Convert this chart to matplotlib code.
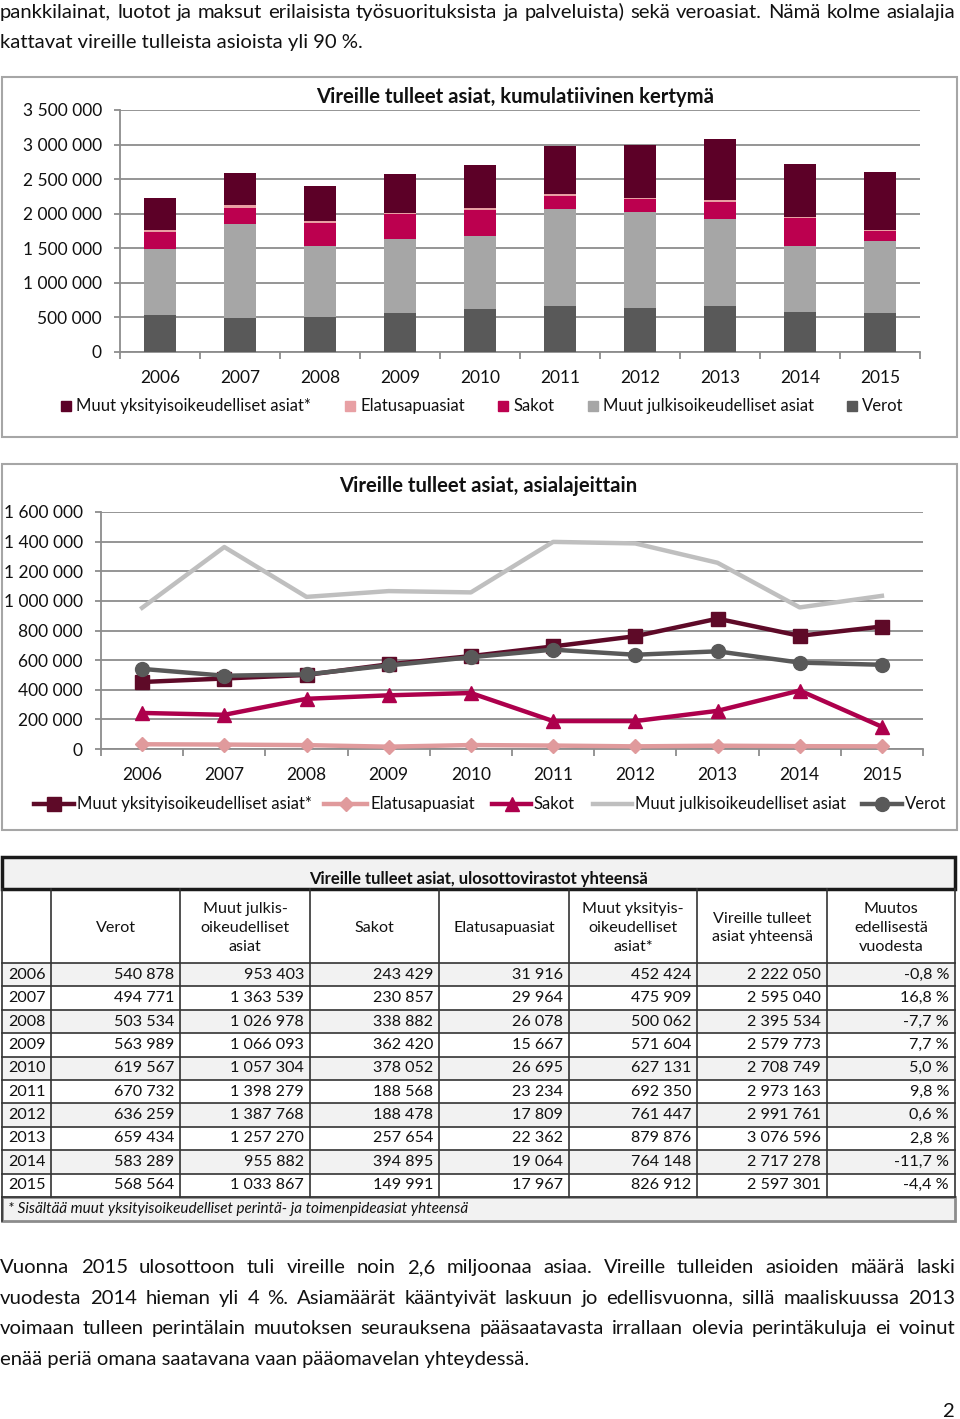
import matplotlib
matplotlib.use("Agg")
import numpy as np
import matplotlib.pyplot as plt
from matplotlib.patches import Rectangle
from matplotlib.lines import Line2D
from matplotlib.ticker import FuncFormatter, MultipleLocator

plt.rcParams['font.family'] = ['Lato', 'DejaVu Sans']

W, H = 960, 1419

years = [2006, 2007, 2008, 2009, 2010, 2011, 2012, 2013, 2014, 2015]
verot = [540878, 494771, 503534, 563989, 619567, 670732, 636259, 659434, 583289, 568564]
julkis = [953403, 1363539, 1026978, 1066093, 1057304, 1398279, 1387768, 1257270, 955882, 1033867]
sakot = [243429, 230857, 338882, 362420, 378052, 188568, 188478, 257654, 394895, 149991]
elatus = [31916, 29964, 26078, 15667, 26695, 23234, 17809, 22362, 19064, 17967]
yksityis = [452424, 475909, 500062, 571604, 627131, 692350, 761447, 879876, 764148, 826912]
yhteensa = [2222050, 2595040, 2395534, 2579773, 2708749, 2973163, 2991761, 3076596, 2717278, 2597301]
muutos = ['-0,8 %', '16,8 %', '-7,7 %', '7,7 %', '5,0 %', '9,8 %', '0,6 %', '2,8 %', '-11,7 %', '-4,4 %']

names = ['Muut yksityisoikeudelliset asiat*', 'Elatusapuasiat', 'Sakot',
         'Muut julkisoikeudelliset asiat', 'Verot']
col_headers = ['', 'Verot', 'Muut julkis-\noikeudelliset\nasiat', 'Sakot', 'Elatusapuasiat',
               'Muut yksityis-\noikeudelliset\nasiat*', 'Vireille tulleet\nasiat yhteensä',
               'Muutos\nedellisestä\nvuodesta']

top_lines = ['pankkilainat, luotot ja maksut erilaisista työsuorituksista ja palveluista) sekä veroasiat. Nämä kolme asialajia',
             'kattavat vireille tulleista asioista yli 90 %.']
bottom_lines = ['Vuonna 2015 ulosottoon tuli vireille noin 2,6 miljoonaa asiaa. Vireille tulleiden asioiden määrä laski',
                'vuodesta 2014 hieman yli 4 %. Asiamäärät kääntyivät laskuun jo edellisvuonna, sillä maaliskuussa 2013',
                'voimaan tulleen perintälain muutoksen seurauksena pääsaatavasta irrallaan olevia perintäkuluja ei voinut',
                'enää periä omana saatavana vaan pääomavelan yhteydessä.']

# bar colours / line colours
bar_col = {'yks': '#5c0027', 'ela': '#e8a0a4', 'sak': '#bc004f', 'jul': '#a6a6a6', 'ver': '#595959'}
line_col = {'yks': '#5e0a28', 'ela': '#e09a9c', 'sak': '#ad004c', 'jul': '#bfbfbf', 'ver': '#595959'}
GRID = '#8c8c8c'

fig = plt.figure(figsize=(9.6, 14.19), dpi=100)
page = fig.add_axes([0, 0, 1, 1])
page.set_xlim(0, W)
page.set_ylim(H, 0)
page.axis('off')
renderer = fig.canvas.get_renderer()


def rect(x0, y0, x1, y1):
    return [x0 / W, 1 - y1 / H, (x1 - x0) / W, (y1 - y0) / H]


def fmt(v, pos=None):
    return f'{int(round(v)):,}'.replace(',', ' ')


def text_line(s, y, size, justify):
    # y is the baseline
    if not justify:
        page.text(0, y, s, fontsize=size, va='baseline', ha='left', color='#111111')
        return
    words = s.split()
    ts = [page.text(0, y, w, fontsize=size, va='baseline', ha='left', color='#111111') for w in words]
    ws = [t.get_window_extent(renderer).width for t in ts]
    gap = (955 - sum(ws)) / (len(words) - 1)
    x = 0
    for t, w in zip(ts, ws):
        t.set_x(x)
        x += w + gap


BODY = 14.6
text_line(top_lines[0], 18, BODY, True)
text_line(top_lines[1], 48, BODY, False)
for i, s in enumerate(bottom_lines):
    text_line(s, 1273 + 30.7 * i, BODY, i < 3)
page.text(954, 1417, '2', fontsize=BODY, ha='right', va='baseline', color='#111111')

# chart frames
page.add_patch(Rectangle((2, 77), 955, 360, fill=False, ec='#a6a6a6', lw=1.5))
page.add_patch(Rectangle((2, 464), 955, 366, fill=False, ec='#a6a6a6', lw=1.5))


def style_axis(ax, ymax, step):
    ax.set_xlim(-0.5, len(years) - 0.5)
    ax.set_ylim(0, ymax)
    ax.yaxis.set_major_locator(MultipleLocator(step))
    ax.yaxis.set_major_formatter(FuncFormatter(fmt))
    ax.yaxis.grid(True, color=GRID, lw=1.3)
    ax.set_axisbelow(True)
    for s in ['top', 'right']:
        ax.spines[s].set_visible(False)
    for s in ['left', 'bottom']:
        ax.spines[s].set_color(GRID)
        ax.spines[s].set_linewidth(1.3)
    ax.set_xticks(range(len(years)))
    ax.set_xticklabels([str(y) for y in years])
    ax.set_xticks(np.arange(-0.5, len(years)), minor=True)
    ax.tick_params(axis='x', which='major', length=0, pad=13, labelsize=12.5, labelcolor='#111111')
    ax.tick_params(axis='x', which='minor', length=5, color=GRID, width=1.3)
    ax.tick_params(axis='y', length=4, color=GRID, width=1.3, pad=9, labelsize=12.5, labelcolor='#111111')
    ax.set_facecolor('none')


# --- chart 1: stacked bars
ax1 = fig.add_axes(rect(120, 110, 920, 352))
style_axis(ax1, 3500000, 500000)
x = np.arange(len(years))
bottom = np.zeros(len(years))
for vals, key in [(verot, 'ver'), (julkis, 'jul'), (sakot, 'sak'), (elatus, 'ela'), (yksityis, 'yks')]:
    ax1.bar(x, vals, 0.4, bottom=bottom, color=bar_col[key], zorder=3)
    bottom += np.array(vals)
page.text(515, 97, 'Vireille tulleet asiat, kumulatiivinen kertymä', fontsize=14.6,
          fontweight='bold', ha='center', va='center', color='#111111')

leg1 = [(61, 'yks'), (345, 'ela'), (498, 'sak'), (588, 'jul'), (847, 'ver')]
for (lx, key), name in zip(leg1, names):
    page.add_patch(Rectangle((lx, 401), 10, 10, color=bar_col[key]))
    page.text(lx + 15, 406, name, fontsize=12, va='center', ha='left', color='#111111')

# --- chart 2: lines
ax2 = fig.add_axes(rect(101, 512, 923, 749))
style_axis(ax2, 1600000, 200000)
styles = [(yksityis, 'yks', 's', 9.5), (elatus, 'ela', 'D', 7.5), (sakot, 'sak', '^', 10.5),
          (julkis, 'jul', None, 0), (verot, 'ver', 'o', 10)]
for vals, key, mk, ms in styles:
    ax2.plot(x, vals, color=line_col[key], lw=3.2, marker=mk, ms=ms, zorder=3, clip_on=False)
page.text(488, 486, 'Vireille tulleet asiat, asialajeittain', fontsize=14.6,
          fontweight='bold', ha='center', va='center', color='#111111')

leg2 = [(34, 74), (324, 367), (492, 531), (593, 632), (862, 902)]
for (a, b), (vals, key, mk, ms), name in zip(leg2, styles, names):
    page.add_line(Line2D([a, b], [804, 804], color=line_col[key], lw=3.2))
    if mk:
        page.add_line(Line2D([(a + b) / 2], [804], color=line_col[key], marker=mk, ms=ms))
    page.text(b + 3, 804, name, fontsize=12, va='center', ha='left', color='#111111')

# --- table
cols = [2, 51, 180, 310, 439, 569, 697, 827, 955]
r_title, r_head, r_data, r_end, r_foot = 857, 889, 963, 1197, 1221
row_h = (r_end - r_data) / len(years)
TXT = 11.6
page.add_patch(Rectangle((2, r_title), 953, r_head - r_title, fc='#f2f2f2', ec='#1a1a1a', lw=2.5, zorder=2))
page.text(478, r_title + 22, 'Vireille tulleet asiat, ulosottovirastot yhteensä', fontsize=12,
          fontweight='bold', ha='center', va='center', color='#111111')
for i in range(len(years)):
    y0 = r_data + i * row_h
    fc = '#f2f2f2' if i % 2 == 0 else 'white'
    page.add_patch(Rectangle((2, y0), 953, row_h, fc=fc, ec='none', zorder=1))
page.add_patch(Rectangle((2, r_end), 953, r_foot - r_end, fc='#f2f2f2', ec='#8c8c8c', lw=2, zorder=1))
for cx in cols:
    page.add_line(Line2D([cx, cx], [r_head, r_end], color='#333333', lw=1.2, zorder=3))
for i in range(len(years) + 1):
    yy = r_data + i * row_h
    page.add_line(Line2D([2, 955], [yy, yy], color='#333333', lw=1.2, zorder=3))
page.add_line(Line2D([2, 2], [r_end, r_foot], color='#333333', lw=1.2, zorder=3))

for j, h in enumerate(col_headers):
    if h:
        page.text((cols[j] + cols[j + 1]) / 2, (r_head + r_data) / 2 + 2, h, fontsize=TXT,
                  ha='center', va='center', linespacing=1.45, color='#111111')

for i, yr in enumerate(years):
    yc = r_data + (i + 0.5) * row_h
    page.text(8, yc, str(yr), fontsize=TXT, ha='left', va='center', color='#111111')
    row = [fmt(verot[i]), fmt(julkis[i]), fmt(sakot[i]), fmt(elatus[i]), fmt(yksityis[i]),
           fmt(yhteensa[i]), muutos[i]]
    for j, s in enumerate(row):
        page.text(cols[j + 2] - 6, yc, s, fontsize=TXT, ha='right', va='center', color='#111111')
page.text(8, (r_end + r_foot) / 2, '* Sisältää muut yksityisoikeudelliset perintä- ja toimenpideasiat yhteensä',
          fontsize=11, style='italic', ha='left', va='center', color='#111111')

fig.savefig('out.png', dpi=100)
